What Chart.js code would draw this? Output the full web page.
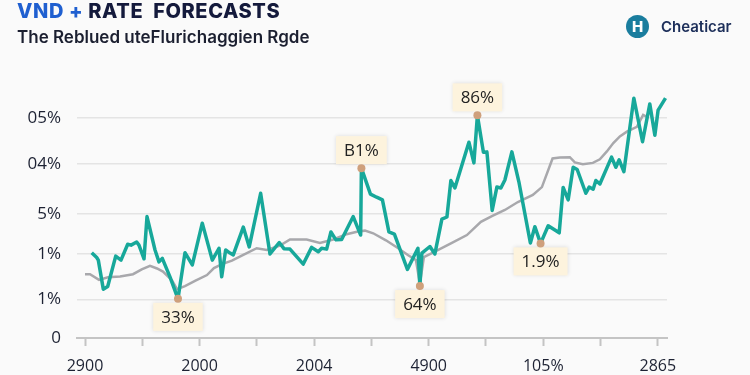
<!DOCTYPE html>
<html>
<head>
<meta charset="utf-8">
<script src="https://cdn.jsdelivr.net/npm/chart.js@4/dist/chart.umd.min.js"></script>
<style>
  body { margin: 0; background: #fafafa; font-family: Inter, "Open Sans", sans-serif; }
  #wrap { position: relative; width: 750px; height: 375px; }
  #title { position: absolute; left: 17px; top: -1px; font-size: 20px; font-weight: 800; color: #141a3c; letter-spacing: 0.6px; white-space: pre; }
  #title .blue { color: #1f5fd0; }
  #subtitle { position: absolute; left: 17px; top: 27px; font-size: 17px; font-weight: 600; color: #1b1f30; }
  #logo { position: absolute; left: 626px; top: 15px; display: flex; align-items: center; }
  #logo .mark { width: 23px; height: 23px; border-radius: 50%; background: #1a7d9e; color: #fff; font-weight: 800; font-size: 15px; text-align: center; line-height: 23px; }
  #logo .name { margin-left: 12px; font-size: 15px; font-weight: 600; color: #1d2f5a; }
</style>
</head>
<body>
<div id="wrap">
  <canvas id="rateChart" width="750" height="375"></canvas>
  <div id="title"><span class="blue">VND +</span> RATE  FORECASTS</div>
  <div id="subtitle">The Reblued uteFlurichaggien Rgde</div>
  <div id="logo"><div class="mark">H</div><div class="name">Cheaticar</div></div>
</div>
<script>
// 軸標籤
const xTickValues = [0, 10, 20, 30, 40, 50, 60, 70, 80, 90, 100];
const xTickLabels = ['2900', '', '2000', '', '2004', '', '4900', '', '105%', '', '2865'];
const yTickValues = [0, 0.88, 1.91, 2.82, 3.95, 5];
const yTickLabels = ['0', '1%', '1%', '5%', '04%', '05%'];

// 預測線 (綠)
const tealX = [1.17, 2.04, 2.32, 3.19, 3.96, 5.36, 6.28, 7.45, 8.03, 9.02, 9.42, 10.3, 10.82, 12.22, 12.91, 13.49, 14.83, 16.23, 17.45, 18.73,
  20.47, 22.22, 23.39, 23.86, 24.55, 25.31, 25.88, 27.63, 28.67, 30.66, 32.29, 33.91, 34.73, 35.78, 38.1, 39.56, 40.72, 41.31, 42.18, 42.93,
  43.8, 44.8, 46.82, 48.12, 48.25, 49.83, 50.91, 51.92, 53.05, 54.01, 56.28, 58.12, 58.46, 58.81, 60.21, 61.08, 62.3, 63.18, 63.87, 64.57,
  67.02, 67.89, 68.5, 69.55, 70.16, 71.08, 71.9, 72.6, 73.3, 74.52, 75.74, 77.75, 78.53, 79.53, 80.86, 82.78, 83.47, 84.35, 85.22, 85.92,
  87.43, 88.01, 88.71, 89.18, 89.88, 91.92, 92.67, 93.25, 94.07, 95.81, 97.33, 98.6, 99.48, 100.05, 101.34];
const tealY = [1.94, 1.83, 1.77, 1.11, 1.17, 1.86, 1.77, 2.13, 2.11, 2.18, 2.11, 1.8, 2.76, 2.0, 1.73, 1.81, 1.39, 0.89, 1.94, 1.66,
  2.61, 1.77, 2.04, 1.39, 2.0, 1.93, 1.89, 2.52, 2.07, 3.29, 1.91, 2.17, 2.03, 2.02, 1.68, 2.06, 1.96, 2.04, 2.02, 2.41,
  2.23, 2.24, 2.76, 2.34, 3.86, 3.27, 3.2, 3.14, 2.41, 2.36, 1.56, 2.04, 1.18, 1.93, 2.08, 1.91, 2.7, 2.75, 3.58, 3.41,
  4.45, 3.98, 5.06, 4.22, 4.23, 2.9, 3.43, 3.41, 3.59, 4.23, 3.55, 2.16, 2.53, 2.15, 2.55, 2.39, 3.42, 3.14, 3.88, 3.83,
  3.29, 3.43, 3.38, 3.58, 3.5, 4.11, 3.88, 4.05, 3.78, 5.45, 4.46, 5.32, 4.61, 5.18, 5.45];

// 基準線 (灰)
const greyX = [0, 0.87, 2.44, 4.01, 6.11, 8.38, 9.9, 11.34, 12.57, 13.61, 15.18, 16.06, 17.45, 19.2, 21.29, 22.51, 23.91, 25.65, 27.63, 29.97,
  31.71, 34.03, 35.78, 38.69, 41.01, 43.33, 45.67, 47.64, 48.87, 50.31, 52.53, 54.68, 56.42, 57.77, 58.46, 59.16, 60.56, 64.05, 66.67, 69.11,
  71.03, 73.3, 75.57, 78.18, 79.76, 81.62, 82.9, 84.64, 85.51, 86.91, 88.66, 89.88, 91.1, 92.23, 93.37, 94.59, 96.34, 97.43, 98.03];
const greyY = [1.45, 1.45, 1.32, 1.38, 1.4, 1.45, 1.56, 1.64, 1.58, 1.51, 1.31, 1.11, 1.18, 1.3, 1.43, 1.59, 1.68, 1.76, 1.89, 2.04,
  2.0, 2.1, 2.24, 2.24, 2.16, 2.24, 2.36, 2.42, 2.44, 2.38, 2.22, 2.04, 1.88, 1.77, 1.23, 1.84, 1.93, 2.16, 2.34, 2.64,
  2.77, 2.91, 3.09, 3.25, 3.43, 4.08, 4.1, 4.11, 3.99, 3.95, 3.98, 4.06, 4.24, 4.43, 4.58, 4.69, 4.8, 5.07, 5.03];

// 標註 (對應綠線的點)
const annIndex = [17, 44, 62, 52, 73];
const annLabel = ['33%', 'B1%', '86%', '64%', '1.9%'];
const annSide = ['below', 'above', 'above', 'below', 'below'];

const toPoints = (xs, ys) => xs.map((x, i) => ({ x: x, y: ys[i] }));

// 畫標註框
const calloutPlugin = {
  id: 'callouts',
  afterDatasetsDraw(chart) {
    const ctx = chart.ctx;
    const meta = chart.getDatasetMeta(0);
    ctx.save();
    ctx.font = '17px "Open Sans", sans-serif';
    annIndex.forEach((idx, k) => {
      const pt = meta.data[idx];
      const w = ctx.measureText(annLabel[k]).width + 16;
      const h = 28;
      const top = annSide[k] === 'below' ? pt.y + 4 : pt.y - 4 - h;
      ctx.shadowColor = 'rgba(0,0,0,0.12)';
      ctx.shadowBlur = 4;
      ctx.fillStyle = '#fdf3dd';
      ctx.fillRect(pt.x - w / 2, top, w, h);
      ctx.shadowBlur = 0;
      ctx.fillStyle = '#222';
      ctx.textAlign = 'center';
      ctx.textBaseline = 'middle';
      ctx.fillText(annLabel[k], pt.x, top + h / 2 + 1);
      ctx.beginPath();
      ctx.arc(pt.x, pt.y, 4, 0, Math.PI * 2);
      ctx.fillStyle = '#cfa07c';
      ctx.fill();
    });
    ctx.restore();
  }
};

const rateChart = new Chart(document.getElementById('rateChart'), {
  type: 'line',
  data: {
    datasets: [{
      label: 'Forecast',
      data: toPoints(tealX, tealY),
      borderColor: '#17a89a',
      borderWidth: 3.5,
      borderJoinStyle: 'round',
      pointRadius: 0,
      tension: 0,
      fill: false
    }, {
      label: 'Baseline',
      data: toPoints(greyX, greyY),
      borderColor: '#a8a8ac',
      borderWidth: 2.5,
      pointRadius: 0,
      tension: 0,
      fill: false
    }]
  },
  options: {
    responsive: false,
    animation: false,
    layout: { padding: { top: 96, right: 83, left: 0, bottom: 0 } },
    plugins: { legend: { display: false }, tooltip: { enabled: false } },
    scales: {
      x: {
        type: 'linear',
        min: -1.4,
        max: 101.6,
        afterBuildTicks: (scale) => { scale.ticks = xTickValues.map(v => ({ value: v })); },
        afterFit: (scale) => { scale.height = 37; },
        border: { display: true, color: '#c4c4c4', width: 2 },
        grid: { drawOnChartArea: false, tickLength: 8, tickColor: '#c4c4c4', tickWidth: 2 },
        ticks: {
          autoSkip: false,
          maxRotation: 0,
          padding: 11,
          color: '#1d2233',
          font: { family: '"Open Sans", sans-serif', size: 16 },
          callback: (v, i) => xTickLabels[i]
        }
      },
      y: {
        min: 0,
        max: 5.5,
        afterBuildTicks: (scale) => { scale.ticks = yTickValues.map(v => ({ value: v })); },
        afterFit: (scale) => { scale.width = 77; },
        border: { display: false },
        grid: { color: '#e4e4e4', lineWidth: 1.5, drawTicks: false },
        ticks: {
          padding: 16,
          color: '#1d2233',
          font: { family: '"Open Sans", sans-serif', size: 17 },
          callback: (v, i) => yTickLabels[i]
        }
      }
    }
  },
  plugins: [calloutPlugin]
});
</script>
</body>
</html>
